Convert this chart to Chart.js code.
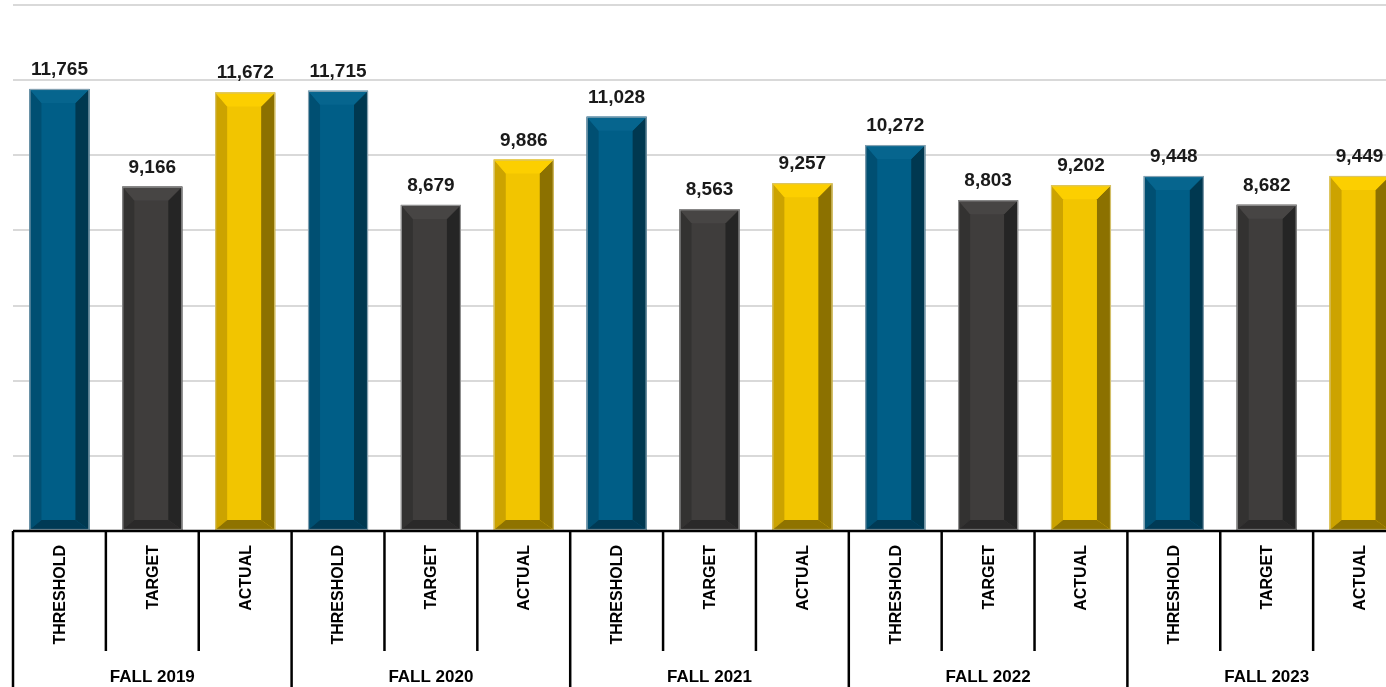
<!DOCTYPE html>
<html>
<head>
<meta charset="utf-8">
<script src="https://cdn.jsdelivr.net/npm/chart.js@4/dist/chart.umd.min.js"></script>
<style>
html,body{margin:0;padding:0;background:#fff;overflow:hidden;width:1386px;height:687px;}
#wrap{position:absolute;left:0;top:0;width:1406px;height:687px;}
</style>
</head>
<body>
<div id="wrap"><canvas id="c" width="1406" height="687"></canvas></div>
<script>
const groups = ["FALL 2019", "FALL 2020", "FALL 2021", "FALL 2022", "FALL 2023"];
const categories = ["THRESHOLD", "TARGET", "ACTUAL"];
const threshold = [11765, 11715, 11028, 10272, 9448];
const target = [9166, 8679, 8563, 8803, 8682];
const actual = [11672, 9886, 9257, 9202, 9449];
const yMin = 0, yMax = 14000, yStep = 2000;

const series = [threshold, target, actual];
const palette = [
  {main:'#005E87', left:'#004F72', right:'#003850', top:'#06658E', bottom:'#003A55', edge:'rgba(140,165,180,0.95)'},
  {main:'#3F3D3C', left:'#333231', right:'#252525', top:'#474544', bottom:'#2A2929', edge:'rgba(150,150,150,0.95)'},
  {main:'#F2C500', left:'#CCA300', right:'#8C7100', top:'#FCCF00', bottom:'#8F7300', edge:'rgba(215,195,110,0.95)'}
];

const labels = [], values = [], kinds = [];
groups.forEach((g, gi) => {
  categories.forEach((c, ci) => {
    labels.push(c);
    values.push(series[ci][gi]);
    kinds.push(ci);
  });
});

const bevelPlugin = {
  id: 'bevel',
  afterDatasetsDraw(chart) {
    const ctx = chart.ctx;
    const meta = chart.getDatasetMeta(0);
    meta.data.forEach((bar, i) => {
      const p = palette[kinds[i]];
      const L = bar.x - bar.width / 2, R = bar.x + bar.width / 2;
      const T = bar.y, B = bar.base;
      const bl = 12, br = 14, t = 14, bb = 10;
      ctx.save();
      ctx.fillStyle = p.main;
      ctx.fillRect(L, T, R - L, B - T);
      const poly = (pts, col) => {
        ctx.beginPath();
        ctx.moveTo(pts[0][0], pts[0][1]);
        for (let k = 1; k < pts.length; k++) ctx.lineTo(pts[k][0], pts[k][1]);
        ctx.closePath();
        ctx.fillStyle = col;
        ctx.fill();
      };
      poly([[L,T],[L+bl,T+t],[L+bl,B-bb],[L,B]], p.left);
      poly([[R,T],[R-br,T+t],[R-br,B-bb],[R,B]], p.right);
      poly([[L,T],[R,T],[R-br,T+t],[L+bl,T+t]], p.top);
      poly([[L,B],[R,B],[R-br,B-bb],[L+bl,B-bb]], p.bottom);
      ctx.strokeStyle = p.edge;
      ctx.lineWidth = 1.2;
      ctx.strokeRect(L + 0.5, T + 0.5, R - L - 1, B - T - 1);
      ctx.fillStyle = '#1A1A1A';
      ctx.font = 'bold 19px "Liberation Sans", Arial, sans-serif';
      ctx.textAlign = 'center';
      ctx.textBaseline = 'alphabetic';
      ctx.fillText(values[i].toLocaleString('en-US'), bar.x, T - 14);
      ctx.restore();
    });
  },
  afterDraw(chart) {
    const ctx = chart.ctx;
    const xs = chart.scales.x;
    const area = chart.chartArea;
    const n = labels.length;
    const catW = (xs.right - xs.left) / n;
    const axisY = area.bottom;
    ctx.save();
    ctx.strokeStyle = '#000';
    ctx.lineWidth = 2.5;
    ctx.beginPath();
    ctx.moveTo(xs.left, axisY);
    ctx.lineTo(xs.right, axisY);
    ctx.stroke();
    for (let i = 0; i <= n; i++) {
      const x = xs.left + i * catW;
      ctx.beginPath();
      ctx.moveTo(x, axisY);
      ctx.lineTo(x, i % 3 === 0 ? 687 : 651);
      ctx.stroke();
    }
    ctx.fillStyle = '#000';
    ctx.font = 'bold 16px "Liberation Sans", Arial, sans-serif';
    for (let i = 0; i < n; i++) {
      const x = xs.getPixelForValue(i);
      ctx.save();
      ctx.translate(x + 1, 545);
      ctx.rotate(-Math.PI / 2);
      ctx.textAlign = 'right';
      ctx.textBaseline = 'middle';
      ctx.fillText(labels[i], 0, 0);
      ctx.restore();
    }
    ctx.font = 'bold 17px "Liberation Sans", Arial, sans-serif';
    ctx.textAlign = 'center';
    ctx.textBaseline = 'middle';
    groups.forEach((g, gi) => {
      const x = (xs.getPixelForValue(gi * 3) + xs.getPixelForValue(gi * 3 + 2)) / 2;
      ctx.fillText(g, x, 677);
    });
    ctx.restore();
  }
};

new Chart(document.getElementById('c'), {
  type: 'bar',
  data: {
    labels: labels,
    datasets: [{
      data: values,
      backgroundColor: 'rgba(0,0,0,0)',
      borderWidth: 0,
      barPercentage: 0.646,
      categoryPercentage: 1.0
    }]
  },
  options: {
    responsive: false,
    animation: false,
    devicePixelRatio: 1,
    layout: { padding: { top: 5, left: 13, right: 0, bottom: 156 } },
    plugins: { legend: { display: false }, tooltip: { enabled: false } },
    scales: {
      x: {
        display: true,
        grid: { display: false },
        border: { display: false },
        ticks: { display: false },
        afterFit(s) { s.height = 0; }
      },
      y: {
        min: yMin, max: yMax,
        ticks: { display: false, stepSize: yStep },
        grid: { color: '#D9D9D9', lineWidth: 2, drawTicks: false },
        border: { display: false },
        afterFit(s) { s.width = 0; }
      }
    }
  },
  plugins: [bevelPlugin]
});
</script>
</body>
</html>
